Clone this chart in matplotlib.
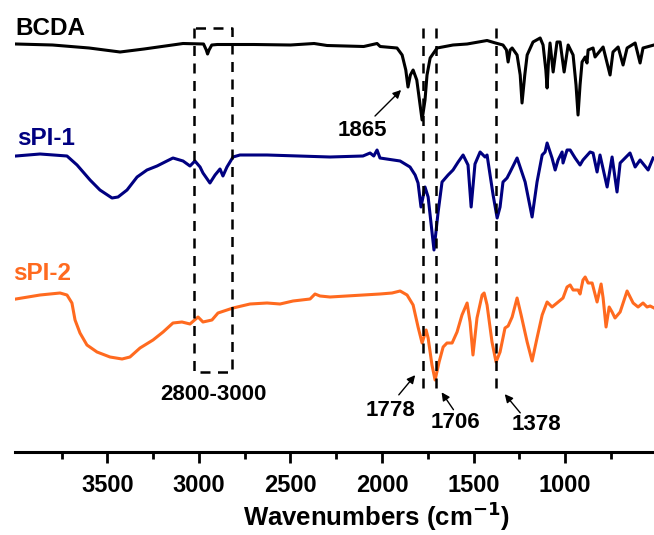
import numpy as np
import matplotlib
matplotlib.use("Agg")
import matplotlib.pyplot as plt
from matplotlib.ticker import FixedLocator

plt.rcParams["font.family"] = ["Liberation Sans", "DejaVu Sans"]
plt.rcParams["font.weight"] = "bold"

# ── spectra (wavenumber, offset transmittance in a.u.) ──────────────────────
bcda_wn = [4000, 3800, 3600, 3431, 3300, 3087, 2975, 2960, 2953, 2945, 2930, 2900,
           2700, 2500, 2371, 2300, 2100, 2027, 2010, 1918, 1890, 1870, 1858, 1845,
           1830, 1810, 1781, 1765, 1754, 1737, 1699, 1612, 1535, 1426, 1380, 1339,
           1320, 1311, 1300, 1289, 1262, 1245, 1235, 1220, 1207, 1175, 1136, 1120,
           1105, 1098, 1090, 1082, 1065, 1044, 1027, 1005, 983, 956, 940, 929, 918,
           907, 890, 880, 874, 847, 836, 792, 754, 738, 710, 683, 661, 617, 590,
           574, 514]
bcda_t = [408, 407, 404, 400, 403, 408.5, 408, 402, 398, 402, 407, 407.5,
          407.5, 407, 408.5, 406.5, 405.5, 408.5, 405.5, 404, 397, 382, 365, 377,
          382, 372, 332, 352, 377, 394, 404, 407, 408, 411.5, 409, 407,
          402, 390, 402, 404, 397, 377, 349, 377, 397, 410, 414, 407,
          382, 364, 392, 409, 380, 410, 410, 380, 407, 397, 367, 337, 367,
          390, 395, 389, 402, 404, 395, 405, 377, 400, 405, 387, 404, 409, 389,
          404, 407]

spi1_wn = [4000, 3868, 3721, 3666, 3595, 3541, 3475, 3442, 3393, 3338, 3284, 3229,
           3175, 3142, 3087, 3049, 3022, 2994, 2978, 2940, 2912, 2885, 2869, 2847,
           2814, 2776, 2628, 2284, 2104, 2065, 2045, 2027, 2011, 1901, 1847, 1819,
           1803, 1787, 1765, 1748, 1716, 1694, 1672, 1639, 1612, 1584, 1557, 1530,
           1513, 1492, 1464, 1437, 1426, 1393, 1371, 1355, 1339, 1317, 1300, 1262,
           1218, 1180, 1153, 1125, 1109, 1098, 1071, 1054, 1038, 1016, 1011, 989,
           972, 945, 918, 902, 863, 847, 825, 809, 770, 743, 716, 699, 645, 617,
           590, 546, 519]
spi1_t = [296, 298, 296, 287, 272, 262, 254, 255, 262, 275, 282, 286,
          291, 294, 291, 286, 291, 285, 279, 269, 277, 283, 276, 285,
          295, 297, 297, 295, 296, 299, 296, 302, 294, 291, 285, 277,
          269, 245, 265, 255, 202, 239, 270, 277, 282, 290, 297, 287,
          245, 288, 300, 295, 297, 257, 234, 245, 270, 274, 280, 294,
          270, 235, 270, 297, 300, 309, 294, 282, 292, 300, 289, 302,
          302, 294, 287, 292, 300, 299, 280, 297, 265, 295, 260, 289, 299, 285,
          292, 282, 294]

spi2_wn = [4000, 3868, 3759, 3721, 3694, 3677, 3650, 3612, 3557, 3486, 3420, 3377,
           3322, 3251, 3196, 3142, 3093, 3049, 3005, 2978, 2929, 2896, 2814, 2721,
           2628, 2557, 2486, 2393, 2366, 2339, 2284, 2011, 1945, 1901, 1863, 1830,
           1803, 1781, 1759, 1748, 1727, 1710, 1688, 1666, 1645, 1617, 1590, 1563,
           1535, 1519, 1503, 1481, 1453, 1442, 1426, 1399, 1377, 1355, 1328, 1311,
           1289, 1262, 1240, 1207, 1180, 1153, 1125, 1098, 1071, 1044, 1011, 989,
           972, 956, 929, 918, 902, 890, 874, 852, 825, 803, 792, 776, 759, 743,
           727, 699, 661, 628, 601, 574, 552, 535, 514]
spi2_t = [153, 157, 159, 157, 149, 132, 119, 107, 100, 95, 93, 95,
          104, 112, 120, 129, 130, 128, 135, 130, 132, 139, 144, 148,
          149, 148, 151, 153, 158, 156, 155, 158, 159, 161, 157, 147,
          125, 109, 122, 114, 87, 72, 90, 105, 109, 109, 120, 137,
          149, 130, 97, 134, 157, 159, 147, 110, 90, 100, 124, 126,
          135, 154, 137, 110, 91, 114, 137, 150, 145, 149, 154, 165,
          167, 162, 162, 158, 172, 175, 169, 169, 150, 168, 154, 125, 145, 140,
          134, 140, 161, 149, 145, 149, 145, 146, 144]

names = ["BCDA", "sPI-1", "sPI-2"]
colors = ["black", "#000080", "#ff6a1f"]
peaks = [1778, 1706, 1378]
region = [3025, 2820]
major_ticks = [3500, 3000, 2500, 2000, 1500, 1000]
minor_ticks = [3750, 3250, 2750, 2250, 1750, 1250, 750]

# ── figure ───────────────────────────────────────────────────────────────────
fig = plt.figure(figsize=(6.54, 5.35), dpi=100)
ax = fig.add_axes([15 / 654, 1 - 452 / 535, 1 - 15 / 654, (452 - 10) / 535])

for wn, t, c in zip([bcda_wn, spi1_wn, spi2_wn], [bcda_t, spi1_t, spi2_t], colors):
    ax.plot(wn, t, color=c, lw=2.2, solid_joinstyle="round")

# series names
for name, c, xy in zip(names, colors, [(4005, 417), (3994, 307), (4016, 172)]):
    ax.text(xy[0], xy[1], name, color=c, fontsize=17.5, fontweight="bold",
            ha="left", va="baseline")

# dashed guide lines
dash = dict(color="black", lw=1.8, ls=(0, (4, 3)))
for p in peaks:
    ax.plot([p, p], [424, 62], **dash)
ax.plot([region[0], region[0], region[1], region[1], region[0]],
        [424, 80, 80, 424, 424], **dash)

# peak annotations
arrow = dict(arrowstyle="-|>", color="black", lw=1.0, mutation_scale=12)
annots = [("1865", (1885, 364), (2049, 334), (2109, 321)),
          ("1778", (1809, 79), (1918, 55), (1951, 42)),
          ("1706", (1683, 62), (1601, 40), (1601, 30)),
          ("1378", (1339, 60), (1235, 37), (1158, 27))]
for lab, head, tail, txt in annots:
    ax.annotate("", xy=head, xytext=tail, arrowprops=arrow)
    ax.text(txt[0], txt[1], lab, fontsize=16, fontweight="bold",
            ha="center", va="center")
ax.text(2923, 57, "2800-3000", fontsize=16, fontweight="bold",
        ha="center", va="center")

# axes styling
ax.set_xlim(4005, 514)
ax.set_ylim(0, 442)
ax.xaxis.set_major_locator(FixedLocator(major_ticks))
ax.xaxis.set_minor_locator(FixedLocator(minor_ticks))
ax.tick_params(axis="x", which="major", direction="out", length=8, width=2,
               labelsize=17, pad=8)
ax.tick_params(axis="x", which="minor", direction="out", length=5, width=2)
ax.set_yticks([])
for s in ["top", "right", "left"]:
    ax.spines[s].set_visible(False)
ax.spines["bottom"].set_linewidth(2.2)

fig.text(376 / 654, 1 - 516 / 535, "Wavenumbers (cm$^{\\mathbf{-1}}$)",
         fontsize=18.5, fontweight="bold", ha="center", va="center")

fig.savefig("out.png", dpi=100)
